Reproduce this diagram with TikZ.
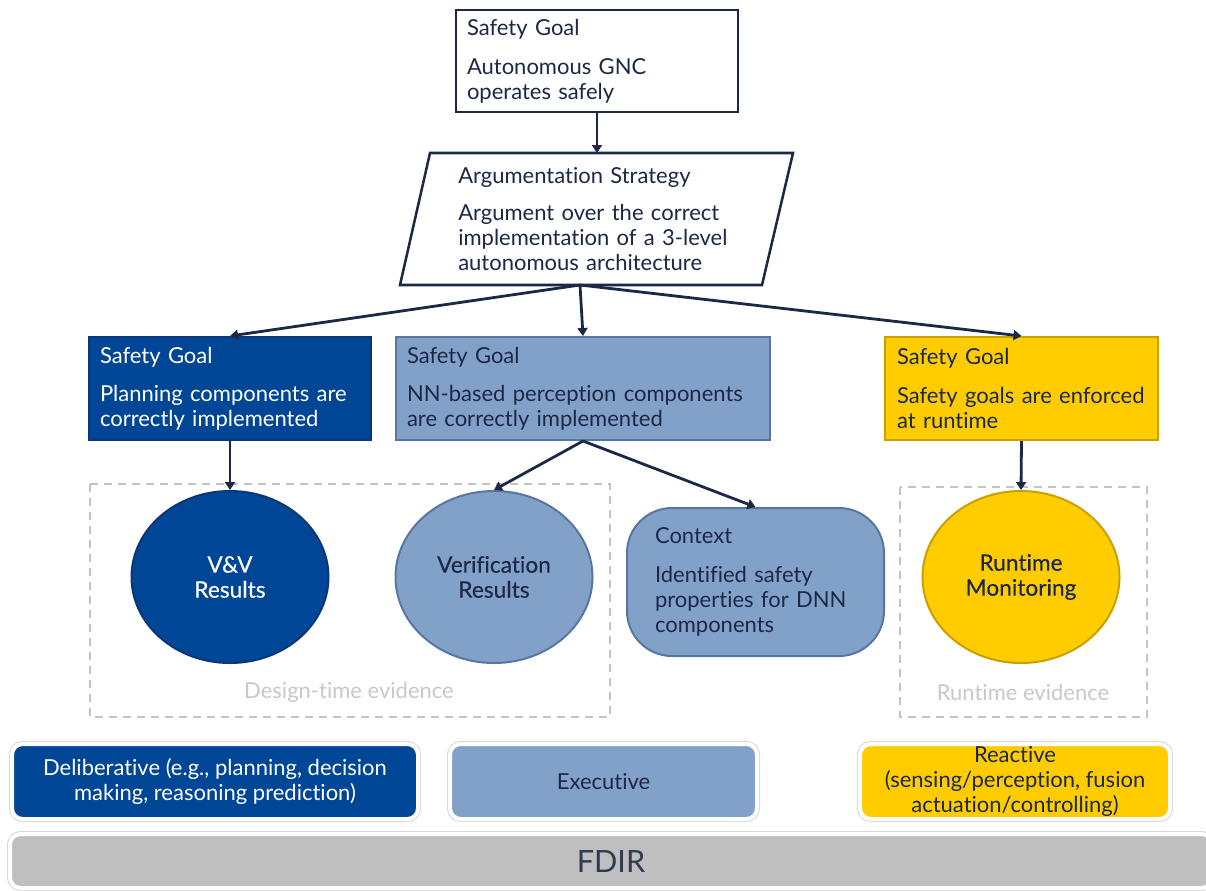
\documentclass[tikz,border=0pt]{standalone}
\usepackage{fontspec}
\setmainfont{Lato}[Ligatures=NoCommon]
\usetikzlibrary{arrows.meta,shapes.geometric}
\definecolor{navy}{RGB}{28,40,70}
\definecolor{dblue}{RGB}{0,70,150}
\definecolor{dblueb}{RGB}{10,55,120}
\definecolor{lblue}{RGB}{129,161,201}
\definecolor{lblueb}{RGB}{90,118,160}
\definecolor{yel}{RGB}{255,204,0}
\definecolor{yelb}{RGB}{200,160,0}
\definecolor{dashg}{RGB}{195,195,195}
\definecolor{evtxt}{RGB}{200,200,200}
\definecolor{fdirg}{RGB}{191,191,191}
\definecolor{ringg}{RGB}{215,215,215}
\begin{document}
\begin{tikzpicture}[x=0.75pt,y=-0.75pt,
  every node/.style={font=\fontsize{16.5}{18.75}\selectfont, inner sep=0pt},
  goalbox/.style={rectangle, line width=1.5pt, align=left, text=navy},
  topgoal/.style={goalbox, draw=navy, fill=white, line width=1.9pt},
  goalD/.style={goalbox, draw=dblueb, fill=dblue, text=white},
  goalL/.style={goalbox, draw=lblueb, fill=lblue},
  goalY/.style={goalbox, draw=yelb, fill=yel},
  evid/.style={ellipse, line width=1.5pt, align=center, minimum width=147.75pt, minimum height=129pt,
    font=\fontsize{17}{18.75}\selectfont\addfontfeatures{FakeBold=0.3}},
  arr/.style={draw=navy, line width=2.1pt, -{Triangle[width=7.5pt,length=6pt]}},
  dashbox/.style={draw=dashg, line width=1.5pt, dash pattern=on 6pt off 4.5pt},
  evlabel/.style={text=evtxt, font=\fontsize{16.5}{18}\selectfont},
  layer/.style={rectangle, rounded corners=8pt, align=center, draw=white, line width=3pt,
    preaction={draw=ringg, line width=4.5pt}, font=\fontsize{16.5}{18.4}\selectfont}
]
\useasboundingbox (0,0) rectangle (1206,890);

% top goal
\node[topgoal, minimum width=211.5pt, minimum height=76.5pt, text width=195pt] (sg) at (597,61)
  {Safety Goal\\[10.5pt]Autonomous GNC\\operates safely};

% strategy parallelogram
\draw[navy, line width=1.9pt, fill=white] (430,153) -- (793,153) -- (762,285) -- (400,285) -- cycle;
\coordinate (stT) at (597,153);
\coordinate (stB) at (580,285);
\node[anchor=west, text width=240pt, align=left, text=navy] (st) at (458,219.5)
  {Argumentation Strategy\\[9pt]Argument over the correct\\implementation of a 3-level\\autonomous architecture};

% sub goals
\node[goalD, minimum width=211.5pt, minimum height=77.25pt, text width=195pt] (sgL) at (230,388.5)
  {Safety Goal\\[10pt]Planning components are\\correctly implemented};
\node[goalL, minimum width=280.5pt, minimum height=77.25pt, text width=264pt] (sgC) at (583,388.5)
  {Safety Goal\\[10pt]NN-based perception components\\are correctly implemented};
\node[goalY, minimum width=204.75pt, minimum height=77.25pt, text width=186.75pt] (sgR) at (1021.5,388.5)
  {Safety Goal\\[10pt]Safety goals are enforced\\at runtime};

% evidence containers
\draw[dashbox] (90,484) rectangle (610,717);
\draw[dashbox] (900,487) rectangle (1147,717);
\node[evlabel] (dl) at (349,692) {Design-time evidence};
\node[evlabel] (rl) at (1023,692) {Runtime evidence};

% evidence
\node[evid, draw=dblueb, fill=dblue, text=white] (vv) at (230,577) {V\&V\\Results};
\node[evid, draw=lblueb, fill=lblue, text=navy] (ver) at (494,577) {Verification\\Results};
\node[evid, draw=yelb, fill=yel, text=navy] (rt) at (1021,577) {Runtime\\Monitoring};
\node[rectangle, rounded corners=33.75pt, draw=lblueb, fill=lblue, line width=1.5pt, text=navy,
  minimum width=192.75pt, minimum height=111pt, text width=150.75pt, align=left] (ctx) at (755.5,582)
  {Context\\[10pt]Identified safety\\properties for DNN\\components};

% connectors
\draw[arr] (sg.south) -- (stT);
\draw[arr] (stB) -- (sgL.north);
\draw[arr] (stB) -- (sgC.north);
\draw[arr] (stB) -- (sgR.north);
\draw[arr] (sgL.south) -- (vv.north);
\draw[arr] (sgC.south) -- (ver.north);
\draw[arr] (sgC.south) -- (ctx.north);
\draw[arr] (sgR.south) -- (rt.north);

% layers
\node[layer, fill=dblue, text=white, minimum width=304.5pt, minimum height=56.25pt] (del) at (215,781.5)
  {Deliberative (e.g., planning, decision\\making, reasoning prediction)};
\node[layer, fill=lblue, text=navy, minimum width=230.25pt, minimum height=56.25pt] (exe) at (603.5,781.5)
  {Executive};
\node[layer, fill=yel, text=navy, minimum width=232.5pt, minimum height=56.25pt] (rea) at (1015,781.5)
  {Reactive\\(sensing/perception, fusion\\actuation/controlling)};
\node[layer, fill=fdirg, text=navy!80!gray, minimum width=901.5pt, minimum height=40.5pt,
  font=\fontsize{23}{26}\selectfont] (fdir) at (611,861) {FDIR};
\end{tikzpicture}
\end{document}
